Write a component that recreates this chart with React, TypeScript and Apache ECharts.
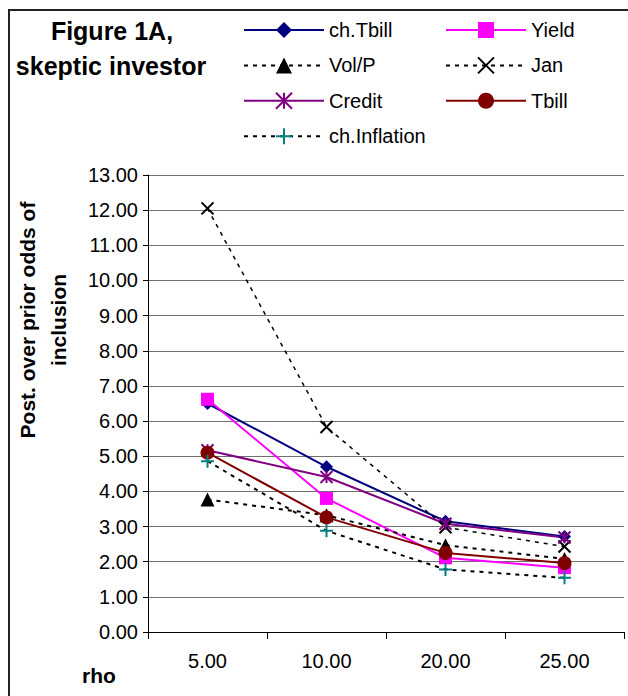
import React, { useEffect, useRef } from "react";
import * as echarts from "echarts";

const categories = ["5.00", "10.00", "20.00", "25.00"];
const chTbill = [6.5, 4.7, 3.15, 2.72];
const yieldVals = [6.62, 3.8, 2.11, 1.83];
const volP = [3.77, 3.32, 2.47, 2.08];
const jan = [12.05, 5.83, 2.98, 2.43];
const credit = [5.17, 4.41, 3.08, 2.69];
const tbill = [5.1, 3.26, 2.25, 1.96];
const chInflation = [4.86, 2.88, 1.78, 1.54];
const yTicks = { min: 0, max: 13, interval: 1 };

const FONT = '"Liberation Sans", Arial, sans-serif';

const X_PATH = "path://M0,0L10,10M10,0L0,10";
const PLUS_PATH = "path://M5,0L5,10M0,5L10,5";
const STAR_PATH = "path://M0,0L10,10M10,0L0,10M5,0L5,10";

export default function App() {
  const ref = useRef<HTMLDivElement>(null);
  useEffect(() => {
    if (!ref.current) return;
    const chart = echarts.init(ref.current, undefined, { renderer: "svg" });
    const solid = (name: string, data: number[], color: string, symbol: string, size: number) => ({
      name,
      type: "line",
      data,
      color,
      symbol,
      symbolSize: size,
      lineStyle: { color, width: 2, type: "solid" },
      itemStyle: { color },
    });
    const open = (
      name: string,
      data: number[],
      lineColor: string,
      markColor: string,
      symbol: string,
      size: number,
      dash: any,
      lw: number
    ) => ({
      name,
      type: "line",
      data,
      color: markColor,
      symbol,
      symbolSize: size,
      lineStyle: { color: lineColor, width: lw, type: dash },
      itemStyle: { color: "rgba(0,0,0,0)", borderColor: markColor, borderWidth: 2 },
    });
    const filledDash = (name: string, data: number[], color: string, symbol: string, size: number) => ({
      name,
      type: "line",
      data,
      color,
      symbol,
      symbolSize: size,
      lineStyle: { color, width: 2, type: [4, 5] },
      itemStyle: { color },
    });
    const legendCommon = {
      top: 15,
      orient: "vertical",
      itemWidth: 80,
      itemHeight: 20,
      itemGap: 15.4,
      textStyle: { fontFamily: FONT, fontSize: 20, color: "#000" },
    };
    chart.setOption({
      animation: false,
      grid: { left: 148, top: 175, right: 4, bottom: 64, containLabel: false },
      legend: [
        { ...legendCommon, left: 238, data: ["ch.Tbill", "Vol/P", "Credit", "ch.Inflation"] },
        { ...legendCommon, left: 440, data: ["Yield", "Jan", "Tbill"] },
      ],
      xAxis: {
        type: "category",
        data: categories,
        boundaryGap: true,
        axisLine: { show: true, lineStyle: { color: "#000", width: 1 } },
        axisTick: { show: true, length: 7, lineStyle: { color: "#000" } },
        axisLabel: { fontFamily: FONT, fontSize: 20, color: "#000", margin: 19 },
        splitLine: { show: false },
      },
      yAxis: {
        type: "value",
        min: yTicks.min,
        max: yTicks.max,
        interval: yTicks.interval,
        axisLine: { show: true, lineStyle: { color: "#000", width: 1 } },
        axisTick: { show: true, length: 5, lineStyle: { color: "#000" } },
        axisLabel: {
          fontFamily: FONT,
          fontSize: 20,
          color: "#000",
          margin: 10,
          formatter: (v: number) => v.toFixed(2),
        },
        splitLine: { show: true, lineStyle: { color: "#707070", width: 1 } },
      },
      graphic: [
        {
          type: "rect",
          z: -10,
          shape: { x: 9, y: 10, width: 700, height: 800 },
          style: { fill: "none", stroke: "#222", lineWidth: 2 },
        },
        {
          type: "text",
          x: 112,
          y: 31,
          style: {
            text: "Figure 1A,",
            font: `bold 25px ${FONT}`,
            fill: "#000",
            textAlign: "center",
            textVerticalAlign: "middle",
          },
        },
        {
          type: "text",
          x: 111,
          y: 66,
          style: {
            text: "skeptic investor",
            font: `bold 25px ${FONT}`,
            fill: "#000",
            textAlign: "center",
            textVerticalAlign: "middle",
          },
        },
        {
          type: "text",
          x: 43,
          y: 320,
          rotation: Math.PI / 2,
          style: {
            text: "Post. over prior odds of\ninclusion",
            font: `bold 21px ${FONT}`,
            lineHeight: 31,
            fill: "#000",
            textAlign: "center",
            textVerticalAlign: "middle",
          },
        },
        {
          type: "text",
          x: 99,
          y: 675,
          style: {
            text: "rho",
            font: `bold 21px ${FONT}`,
            fill: "#000",
            textAlign: "center",
            textVerticalAlign: "middle",
          },
        },
      ],
      series: [
        solid("ch.Tbill", chTbill, "#000080", "diamond", 13),
        solid("Yield", yieldVals, "#FF00FF", "rect", 13),
        filledDash("Vol/P", volP, "#000000", "triangle", 14),
        open("Jan", jan, "#000000", "#000000", X_PATH, 12, [4, 5], 1.5),
        open("Credit", credit, "#800080", "#800080", STAR_PATH, 12, "solid", 2),
        solid("Tbill", tbill, "#800000", "circle", 14),
        open("ch.Inflation", chInflation, "#000000", "#008080", PLUS_PATH, 13, [4, 5], 2),
      ],
    });
    return () => chart.dispose();
  }, []);
  return (
    <div
      ref={ref}
      style={{ position: "absolute", left: 0, top: 0, width: 628, height: 696 }}
    />
  );
}
